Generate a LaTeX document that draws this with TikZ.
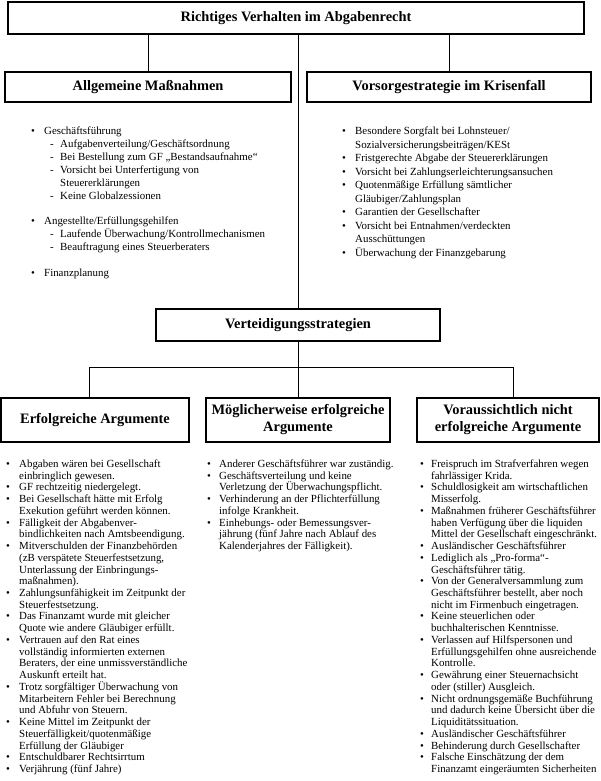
\documentclass[tikz,border=0pt]{standalone}
\usepackage{fontspec}
\setmainfont{Liberation Serif}
\tikzset{
  hdr/.style={draw, line width=1.1pt, inner sep=0pt, align=center,
    font=\bfseries\fontsize{14.4}{17}\selectfont},
  txt/.style={inner sep=0pt, font=\fontsize{10.9}{13}\selectfont},
  conn/.style={line width=0.8pt}
}
\newcommand\drawlist[6]{%
  \foreach \lnum/\lmark/\ltext in {#6}{%
    \node[txt, anchor=base west] (#1t\lnum) at (#3, {#4+\lnum*#5}) {\ltext};
    \ifnum\lmark=1 \node[txt, anchor=base west] (#1m\lnum) at (#2, {#4+\lnum*#5}) {\textbullet};\fi
    \ifnum\lmark=2 \node[txt, anchor=base west] (#1m\lnum) at (#2, {#4+\lnum*#5}) {-};\fi
  }%
}
\begin{document}
\begin{tikzpicture}[x=1pt, y=-1pt]
\useasboundingbox (0,0) rectangle (600,781);
% boxes
\node[hdr, minimum width=576pt, minimum height=32pt] (top) at (296,18) {Richtiges Verhalten im Abgabenrecht};
\node[hdr, minimum width=286pt, minimum height=30pt] (allg) at (148,87) {Allgemeine Maßnahmen};
\node[hdr, minimum width=284pt, minimum height=30pt] (vors) at (449,87) {Vorsorgestrategie im Krisenfall};
\node[hdr, minimum width=284pt, minimum height=32pt] (vert) at (298,325) {Verteidigungsstrategien};
\node[hdr, minimum width=188pt, minimum height=44pt] (erf) at (95,420) {Erfolgreiche Argumente};
\node[hdr, minimum width=184pt, minimum height=44pt] (mog) at (298,420) {Möglicherweise erfolgreiche\\Argumente};
\node[hdr, minimum width=182pt, minimum height=44pt] (vor) at (508,420) {Voraussichtlich nicht\\erfolgreiche Argumente};
% connectors
\draw[conn] (allg.north) -- (allg.north |- top.south);
\draw[conn] (vors.north) -- (vors.north |- top.south);
\draw[conn] (vert.north) -- (vert.north |- top.south);
\draw[conn] (vert.south) -- (mog.north);
\coordinate (jl) at (89,367);
\coordinate (jr) at (513,367);
\draw[conn] (jl |- erf.north) -- (jl) -- (jr) -- (jr |- vor.north);
% upper left list
\drawlist{ula}{31}{44}{134.5}{12.9}{0/1/{Geschäftsführung}, 7/1/{Angestellte/Erfüllungsgehilfen}, 11/1/{Finanzplanung}}
\drawlist{ulb}{50}{60}{134.5}{12.9}{1/2/{Aufgabenverteilung/Geschäftsordnung}, 2/2/{Bei Bestellung zum GF „Bestandsaufnahme“}, 3/2/{Vorsicht bei Unterfertigung von}, 4/0/{Steuererklärungen}, 5/2/{Keine Globalzessionen}, 8/2/{Laufende Überwachung/Kontrollmechanismen}, 9/2/{Beauftragung eines Steuerberaters}}
% upper right list
\drawlist{ur}{342}{355}{134.5}{13.5}{0/1/{Besondere Sorgfalt bei Lohnsteuer/}, 1/0/{Sozialversicherungsbeiträgen/KESt}, 2/1/{Fristgerechte Abgabe der Steuererklärungen}, 3/1/{Vorsicht bei Zahlungserleichterungsansuchen}, 4/1/{Quotenmäßige Erfüllung sämtlicher}, 5/0/{Gläubiger/Zahlungsplan}, 6/1/{Garantien der Gesellschafter}, 7/1/{Vorsicht bei Entnahmen/verdeckten}, 8/0/{Ausschüttungen}, 9/1/{Überwachung der Finanzgebarung}}
% bottom left list
\drawlist{bl}{6}{19}{467.5}{11.73}{0/1/{Abgaben wären bei Gesellschaft}, 1/0/{einbringlich gewesen.}, 2/1/{GF rechtzeitig niedergelegt.}, 3/1/{Bei Gesellschaft hätte mit Erfolg}, 4/0/{Exekution geführt werden können.}, 5/1/{Fälligkeit der Abgabenver-}, 6/0/{bindlichkeiten nach Amtsbeendigung.}, 7/1/{Mitverschulden der Finanzbehörden}, 8/0/{(zB verspätete Steuerfestsetzung,}, 9/0/{Unterlassung der Einbringungs-}, 10/0/{maßnahmen).}, 11/1/{Zahlungsunfähigkeit im Zeitpunkt der}, 12/0/{Steuerfestsetzung.}, 13/1/{Das Finanzamt wurde mit gleicher}, 14/0/{Quote wie andere Gläubiger erfüllt.}, 15/1/{Vertrauen auf den Rat eines}, 16/0/{vollständig informierten externen}, 17/0/{Beraters, der eine unmissverständliche}, 18/0/{Auskunft erteilt hat.}, 19/1/{Trotz sorgfältiger Überwachung von}, 20/0/{Mitarbeitern Fehler bei Berechnung}, 21/0/{und Abfuhr von Steuern.}, 22/1/{Keine Mittel im Zeitpunkt der}, 23/0/{Steuerfälligkeit/quotenmäßige}, 24/0/{Erfüllung der Gläubiger}, 25/1/{Entschuldbarer Rechtsirrtum}, 26/1/{Verjährung (fünf Jahre)}}
% bottom middle list
\drawlist{bm}{207}{219}{467.5}{11.73}{0/1/{Anderer Geschäftsführer war zuständig.}, 1/1/{Geschäftsverteilung und keine}, 2/0/{Verletzung der Überwachungspflicht.}, 3/1/{Verhinderung an der Pflichterfüllung}, 4/0/{infolge Krankheit.}, 5/1/{Einhebungs- oder Bemessungsver-}, 6/0/{jährung (fünf Jahre nach Ablauf des}, 7/0/{Kalenderjahres der Fälligkeit).}}
% bottom right list
\drawlist{br}{420}{431}{467.5}{11.73}{0/1/{Freispruch im Strafverfahren wegen}, 1/0/{fahrlässiger Krida.}, 2/1/{Schuldlosigkeit am wirtschaftlichen}, 3/0/{Misserfolg.}, 4/1/{Maßnahmen früherer Geschäftsführer}, 5/0/{haben Verfügung über die liquiden}, 6/0/{Mittel der Gesellschaft eingeschränkt.}, 7/1/{Ausländischer Geschäftsführer}, 8/1/{Lediglich als „Pro-forma“-}, 9/0/{Geschäftsführer tätig.}, 10/1/{Von der Generalversammlung zum}, 11/0/{Geschäftsführer bestellt, aber noch}, 12/0/{nicht im Firmenbuch eingetragen.}, 13/1/{Keine steuerlichen oder}, 14/0/{buchhalterischen Kenntnisse.}, 15/1/{Verlassen auf Hilfspersonen und}, 16/0/{Erfüllungsgehilfen ohne ausreichende}, 17/0/{Kontrolle.}, 18/1/{Gewährung einer Steuernachsicht}, 19/0/{oder (stiller) Ausgleich.}, 20/1/{Nicht ordnungsgemäße Buchführung}, 21/0/{und dadurch keine Übersicht über die}, 22/0/{Liquiditätssituation.}, 23/1/{Ausländischer Geschäftsführer}, 24/1/{Behinderung durch Gesellschafter}, 25/1/{Falsche Einschätzung der dem}, 26/0/{Finanzamt eingeräumten Sicherheiten}}
\end{tikzpicture}
\end{document}
